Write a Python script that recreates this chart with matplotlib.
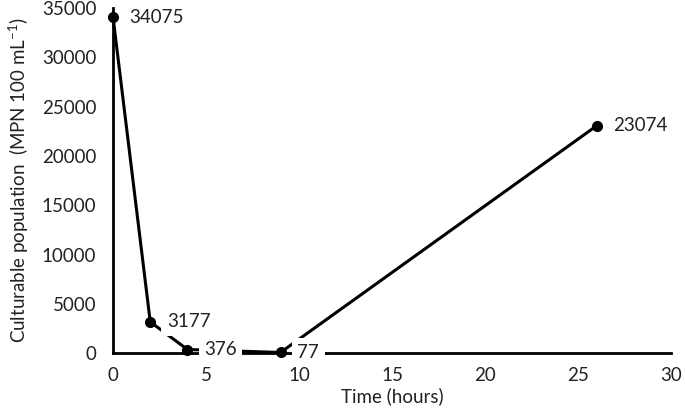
import matplotlib
matplotlib.use("Agg")
import matplotlib.pyplot as plt

plt.rcParams["font.family"] = ["Lato", "DejaVu Sans"]
plt.rcParams["mathtext.default"] = "regular"

hours = [0, 2, 4, 9, 26]
mpn = [34075, 3177, 376, 77, 23074]
err = [600, 0, 0, 0, 0]
point_labels = ["34075", "3177", "376", "77", "23074"]

fig = plt.figure(figsize=(6.85, 4.19), dpi=100)
ax = fig.add_axes([0.165, 0.157, 0.815, 0.824])

ax.errorbar(hours, mpn, yerr=err, color="black", linewidth=2.2,
            marker="o", markersize=7, capsize=0, elinewidth=1.2, zorder=3,
            clip_on=False)

for x, y, lab in zip(hours, mpn, point_labels):
    ax.annotate(lab, (x, y), xytext=(12, 0), textcoords="offset points",
                ha="left", va="center", fontsize=13.5, color="#222",
                bbox=dict(boxstyle="square,pad=0.3", fc="white", ec="none"),
                zorder=5, annotation_clip=False)

ax.set_xlim(0, 30)
ax.set_ylim(0, 35000)
ax.set_xticks(range(0, 31, 5))
ax.set_yticks(range(0, 35001, 5000))
ax.tick_params(length=0, labelsize=13.5, colors="#222")
ax.tick_params(axis="y", pad=12)
ax.tick_params(axis="x", pad=10)
for s in ("top", "right"):
    ax.spines[s].set_visible(False)
for s in ("left", "bottom"):
    ax.spines[s].set_linewidth(2)
    ax.spines[s].set_zorder(1)

ax.set_xlabel("Time (hours)", fontsize=13.5, color="#222", labelpad=2)
ax.set_ylabel("Culturable population  (MPN 100 mL$^{-1}$)", fontsize=13.5,
              color="#222", labelpad=8)

fig.savefig("out.png", dpi=100, facecolor="white")
